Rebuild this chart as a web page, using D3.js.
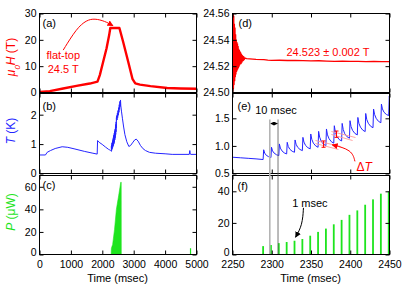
<!DOCTYPE html>
<html>
<head>
<meta charset="utf-8">
<script src="https://cdn.jsdelivr.net/npm/d3@7"></script>
<style>
  body { margin: 0; background: #fff; }
  svg text { font-family: Arial, "Liberation Sans", Helvetica, sans-serif; }
</style>
</head>
<body>
<svg id="chart" width="415" height="287"></svg>
<script>
// ---- data ----
// (a) field during the whole pulse
const aTime = [0, 328, 754, 1178, 1603, 1847, 1921, 2028, 2134, 2219, 2255, 2545, 2665, 2825, 2960, 3050, 3200, 3535, 4066, 4500, 5000];
const aField = [0.2, 0.5, 1.5, 2.5, 3.4, 4.1, 6.6, 11.7, 16.7, 21.8, 24.5, 24.5, 19.2, 11.7, 5.2, 3.5, 3.0, 2.4, 1.7, 1.5, 1.4];

// (d) field on the flat top, zoomed
const dTime = [2250, 2250.4, 2250.8, 2251.2, 2251.6, 2252, 2252.4, 2252.8, 2253.2, 2253.6, 2254, 2254.4, 2254.8, 2255.2, 2255.6, 2256,
  2256.4, 2256.8, 2257.2, 2257.6, 2258, 2258.4, 2258.8, 2259.2, 2259.6, 2260, 2260.5, 2261, 2261.5, 2262, 2262.5, 2263, 2263.5, 2264,
  2264.5, 2265, 2266, 2268, 2272, 2280, 2290, 2295, 2300, 2310, 2320, 2330, 2340, 2350, 2360, 2370, 2380, 2390, 2400, 2410, 2420, 2430, 2440, 2450];
const dField = [24.575, 24.501, 24.566, 24.503, 24.558, 24.506, 24.552, 24.509, 24.549, 24.512, 24.544, 24.514, 24.540, 24.516, 24.538, 24.517,
  24.537, 24.518, 24.535, 24.519, 24.533, 24.520, 24.532, 24.521, 24.531, 24.522, 24.530, 24.522, 24.529, 24.523, 24.528, 24.524, 24.5275, 24.5245,
  24.527, 24.525, 24.5262, 24.5258, 24.5256, 24.5252, 24.5249, 24.5246, 24.5244, 24.5245, 24.5243, 24.5244, 24.5242, 24.524, 24.5241, 24.5239,
  24.5237, 24.5238, 24.5236, 24.5237, 24.5235, 24.5236, 24.5234, 24.5234];

// (e) temperature while heating pulses are applied
const eTime = [2250, 2260, 2270, 2280, 2289,
  2289.7, 2291, 2293, 2296, 2299,
  2299.7, 2301, 2303, 2306, 2309,
  2309.7, 2311, 2313, 2316, 2319,
  2319.7, 2321, 2323, 2326, 2329,
  2329.7, 2331, 2333, 2336, 2339,
  2339.7, 2341, 2343, 2346, 2349,
  2349.7, 2351, 2353, 2356, 2359,
  2359.7, 2361, 2363, 2366, 2369,
  2369.7, 2371, 2373, 2376, 2379,
  2379.7, 2381, 2383, 2386, 2389,
  2389.7, 2391, 2393, 2396, 2399,
  2399.7, 2401, 2403, 2406, 2409,
  2409.7, 2411, 2413, 2416, 2419,
  2419.7, 2421, 2423, 2426, 2429,
  2429.7, 2431, 2433, 2436, 2439,
  2439.7, 2441, 2443, 2446, 2449,
  2449.7, 2451];
const eTemp = [0.795, 0.785, 0.775, 0.765, 0.753,
  0.93, 0.87, 0.83, 0.805, 0.79,
  0.975, 0.91, 0.87, 0.84, 0.825,
  1.036, 0.96, 0.91, 0.873, 0.855,
  1.065, 0.99, 0.94, 0.903, 0.885,
  1.108, 1.03, 0.975, 0.935, 0.915,
  1.155, 1.07, 1.01, 0.968, 0.946,
  1.216, 1.12, 1.05, 1.0, 0.975,
  1.264, 1.16, 1.085, 1.03, 1.005,
  1.307, 1.2, 1.13, 1.075, 1.05,
  1.366, 1.25, 1.17, 1.115, 1.09,
  1.408, 1.3, 1.22, 1.165, 1.14,
  1.457, 1.35, 1.28, 1.225, 1.2,
  1.516, 1.41, 1.34, 1.285, 1.26,
  1.588, 1.48, 1.41, 1.355, 1.33,
  1.668, 1.57, 1.5, 1.445, 1.42,
  1.758, 1.67, 1.61, 1.57, 1.55,
  1.9, 1.8];

// (b) temperature, whole pulse (middle part is the (e) record)
const bEarlyTime = [0, 190, 244, 350, 500, 722, 900, 1100, 1440, 1700, 1837, 1850, 1900, 1996, 2100, 2200, 2240];
const bEarlyTemp = [0.63, 0.63, 0.72, 0.78, 0.85, 0.91, 0.89, 0.84, 0.75, 0.69, 0.66, 1.12, 1.06, 0.99, 0.9, 0.82, 0.8];
const bLateTime = [2460, 2470, 2480, 2490, 2500, 2510, 2520, 2530, 2540, 2550, 2560, 2570, 2580, 2590, 2610, 2640, 2680, 2720, 2780,
  2845, 2900, 2960, 3030, 3080, 3140, 3217, 3300, 3376, 3500, 3695, 4000, 4226, 4770, 4788, 4800, 4820, 5000];
const bLateTemp = [1.97, 1.82, 2.05, 1.9, 2.14, 1.98, 2.24, 2.08, 2.34, 2.18, 2.45, 2.28, 2.5, 2.3, 2.12, 1.88, 1.58, 1.32, 1.08,
  0.92, 0.95, 1.04, 1.14, 1.17, 1.1, 0.95, 0.84, 0.78, 0.72, 0.69, 0.67, 0.65, 0.65, 0.78, 0.66, 0.65, 0.65];

// (f) heater power pulses
const fTime = [2289, 2299, 2309, 2319, 2329, 2339, 2349, 2359, 2369, 2379, 2389, 2399, 2409, 2419, 2429, 2439, 2449];
const fPower = [5.3, 6.0, 7.2, 7.9, 8.7, 9.8, 11.9, 14.3, 16.4, 19.1, 21.9, 25.1, 27.9, 31.5, 34.9, 38.5, 40];

// (c) envelope of the power pulses on the long time scale
const cTime = [2283, 2289, 2309, 2329, 2389, 2449, 2520, 2588, 2602, 2604];
const cPower = [0, 5.3, 7.2, 8.7, 22, 40, 52, 64, 64, 0];
const cSpikeTime = [4810];
const cSpikePower = [5.5];

// tick values
const leftXTicks = [0, 1000, 2000, 3000, 4000, 5000];
const rightXTicks = [2250, 2300, 2350, 2400, 2450];
const aTicks = [0, 10, 20, 30];
const bTicks = [0, 1, 2];
const cTicks = [0, 20, 40, 60];
const dTicks = [24.50, 24.52, 24.54, 24.56];
const eTicks = [0.5, 1.0, 1.5];
const fTicks = [0, 20, 40];

const RED = '#ff0000', BLUE = '#2424ff', GREEN = '#1ee41e';

const svg = d3.select('#chart');
const colX = { left: [39, 196], right: [232, 389] };
const rowY = { top: [13, 92], mid: [93, 173], bot: [175, 254] };

const defs = svg.append('defs');
function arrowMarker(id, color, size) {
  defs.append('marker')
    .attr('id', id)
    .attr('viewBox', '0 0 10 10')
    .attr('refX', 9).attr('refY', 5)
    .attr('markerUnits', 'userSpaceOnUse')
    .attr('markerWidth', size).attr('markerHeight', size)
    .attr('orient', 'auto-start-reverse')
    .append('path')
    .attr('d', 'M0,0L10,5L0,10z')
    .attr('fill', color);
}
arrowMarker('arrow-red', RED, 6);
arrowMarker('arrow-black', '#000', 6);
arrowMarker('arrow-small', '#000', 4);

function makePanel({ name, col, row, xDomain, yDomain, xTicks, yTicks, yFormat, xLabels, labelPos }) {
  const [x0, x1] = colX[col];
  const [y0, y1] = rowY[row];
  const w = x1 - x0, h = y1 - y0;
  const x = d3.scaleLinear().domain(xDomain).range([0, w]);
  const y = d3.scaleLinear().domain(yDomain).range([h, 0]);
  const g = svg.append('g').attr('transform', `translate(${x0 + 0.5},${y0 + 0.5})`);

  g.append('clipPath').attr('id', 'clip-' + name)
    .append('rect').attr('width', w).attr('height', h);
  const plot = g.append('g').attr('clip-path', `url(#clip-${name})`);

  const axes = g.append('g');
  axes.append('g').attr('transform', `translate(0,${h})`)
    .call(d3.axisBottom(x).tickValues(xTicks).tickSize(-4).tickPadding(6)
      .tickFormat(xLabels ? d3.format('d') : ''));
  axes.append('g')
    .call(d3.axisTop(x).tickValues(xTicks).tickSize(-4).tickFormat(''));
  const yAxis = axes.append('g')
    .call(d3.axisLeft(y).tickValues(yTicks).tickSize(-4).tickPadding(3).tickFormat(yFormat));
  // bottom row: lift the lowest label a little so it clears the time labels
  if (xLabels) yAxis.selectAll('.tick text').filter(d => d === yTicks[0]).attr('dy', '0.1em');
  axes.append('g').attr('transform', `translate(${w},0)`)
    .call(d3.axisRight(y).tickValues(yTicks).tickSize(-4).tickFormat(''));
  axes.selectAll('.domain').remove();
  axes.selectAll('.tick line').attr('stroke', '#000');
  axes.selectAll('text')
    .attr('font-size', 10.5)
    .attr('font-family', 'Arial, "Liberation Sans", sans-serif')
    .attr('fill', '#000');

  g.append('rect')
    .attr('width', w).attr('height', h)
    .attr('fill', 'none').attr('stroke', '#000').attr('stroke-width', 1);

  g.append('text')
    .attr('x', labelPos[0]).attr('y', labelPos[1])
    .attr('font-size', 11)
    .text('(' + name + ')');

  return { g, plot, x, y, w, h, x0, y0 };
}

const zip = (xs, ys) => xs.map((v, i) => [v, ys[i]]);

// ---- panels ----
const pa = makePanel({ name: 'a', col: 'left', row: 'top', xDomain: [0, 5000], yDomain: [0, 30],
  xTicks: leftXTicks, yTicks: aTicks, yFormat: d3.format('d'), xLabels: false, labelPos: [3, 13] });
const pb = makePanel({ name: 'b', col: 'left', row: 'mid', xDomain: [0, 5000], yDomain: [0, 2.72],
  xTicks: leftXTicks, yTicks: bTicks, yFormat: d3.format('d'), xLabels: false, labelPos: [3, 16] });
const pc = makePanel({ name: 'c', col: 'left', row: 'bot', xDomain: [0, 5000], yDomain: [0, 70],
  xTicks: leftXTicks, yTicks: cTicks, yFormat: d3.format('d'), xLabels: true, labelPos: [3, 13] });
const pd = makePanel({ name: 'd', col: 'right', row: 'top', xDomain: [2250, 2450], yDomain: [24.50, 24.56],
  xTicks: rightXTicks, yTicks: dTicks, yFormat: d3.format('.2f'), xLabels: false, labelPos: [6, 13] });
const pe = makePanel({ name: 'e', col: 'right', row: 'mid', xDomain: [2250, 2450], yDomain: [0.5, 1.95],
  xTicks: rightXTicks, yTicks: eTicks, yFormat: d3.format('.1f'), xLabels: false, labelPos: [5, 16] });
const pf = makePanel({ name: 'f', col: 'right', row: 'bot', xDomain: [2250, 2450], yDomain: [0, 50],
  xTicks: rightXTicks, yTicks: fTicks, yFormat: d3.format('d'), xLabels: true, labelPos: [5, 14] });

function drawLine(p, pts, color, width) {
  p.plot.append('path')
    .datum(pts)
    .attr('fill', 'none')
    .attr('stroke', color)
    .attr('stroke-width', width)
    .attr('stroke-linejoin', 'round')
    .attr('d', d3.line().x(d => p.x(d[0])).y(d => p.y(d[1])));
}

// (a)
drawLine(pa, zip(aTime, aField), RED, 2.4);
// (b)
const bPts = zip(bEarlyTime, bEarlyTemp).concat(zip(eTime, eTemp), zip(bLateTime, bLateTemp));
drawLine(pb, bPts, BLUE, 1);
// (c)
pc.plot.append('path')
  .datum(zip(cTime, cPower))
  .attr('fill', GREEN)
  .attr('stroke', GREEN)
  .attr('stroke-width', 0.6)
  .attr('d', d3.area().x(d => pc.x(d[0])).y0(pc.y(0)).y1(d => pc.y(d[1])));
pc.plot.selectAll('.spike')
  .data(zip(cSpikeTime, cSpikePower))
  .enter().append('line')
  .attr('x1', d => pc.x(d[0])).attr('x2', d => pc.x(d[0]))
  .attr('y1', pc.y(0)).attr('y2', d => pc.y(d[1]))
  .attr('stroke', GREEN).attr('stroke-width', 1.2);
// (d)
drawLine(pd, zip(dTime, dField), RED, 1.3);
// (e)
drawLine(pe, zip(eTime, eTemp), BLUE, 1);
// (f)
pf.plot.selectAll('.bar')
  .data(zip(fTime, fPower))
  .enter().append('rect')
  .attr('x', d => pf.x(d[0]) - 0.9)
  .attr('width', 1.8)
  .attr('y', d => pf.y(d[1]))
  .attr('height', d => pf.y(0) - pf.y(d[1]))
  .attr('fill', GREEN);

// ---- annotations ----
// (a) flat-top
pa.g.append('path')
  .datum([[755, 16.1], [1178, 24.3], [1497, 27.5], [1761, 28.1], [2080, 27.1], [2340, 25.4]])
  .attr('fill', 'none').attr('stroke', RED).attr('stroke-width', 1)
  .attr('marker-end', 'url(#arrow-red)')
  .attr('d', d3.line().curve(d3.curveBasis).x(d => pa.x(d[0])).y(d => pa.y(d[1])));
pa.g.append('text').attr('x', pa.x(755)).attr('y', pa.y(12.7))
  .attr('text-anchor', 'middle').attr('font-size', 11).attr('fill', RED).text('flat-top');
pa.g.append('text').attr('x', pa.x(755)).attr('y', pa.y(7.3))
  .attr('text-anchor', 'middle').attr('font-size', 11).attr('fill', RED).text('24.5 T');

// (d) value
pd.g.append('text').attr('x', pd.x(2318.8)).attr('y', pd.y(24.5277))
  .attr('font-size', 11).attr('fill', RED).text('24.523 \u00b1 0.002 T');

// vertical guide lines through (e) and (f)
const guideTop = pe.y0 + pe.y(1.47);
const guideBottom = pf.y0 + pf.y(0);
[[2297.5, '#b4b4b4', 1.6], [2308, '#555', 0.8]].forEach(([t, c, sw]) => {
  const xx = colX.right[0] + 0.5 + pe.x(t);
  svg.append('line')
    .attr('x1', xx).attr('x2', xx)
    .attr('y1', guideTop).attr('y2', guideBottom)
    .attr('stroke', c).attr('stroke-width', sw);
});

// (e) 10 msec
pe.g.append('line')
  .attr('x1', pe.x(2298.5)).attr('x2', pe.x(2307.2))
  .attr('y1', pe.y(1.405)).attr('y2', pe.y(1.405))
  .attr('stroke', '#000').attr('stroke-width', 0.8)
  .attr('marker-start', 'url(#arrow-small)').attr('marker-end', 'url(#arrow-small)');
pe.g.append('text').attr('x', pe.x(2278.9)).attr('y', pe.y(1.587))
  .attr('font-size', 11).text('10 msec');

// (e) delta T marks
const PINK = '#ff9a9a';
[[[2355.7, 1.098], [2387.6, 0.989]], [[2355.7, 1.043], [2385, 0.935]],
 [[2376, 1.261], [2406.7, 1.152]], [[2376, 1.207], [2403, 1.098]]].forEach(seg => {
  pe.g.append('line')
    .attr('x1', pe.x(seg[0][0])).attr('y1', pe.y(seg[0][1]))
    .attr('x2', pe.x(seg[1][0])).attr('y2', pe.y(seg[1][1]))
    .attr('stroke', PINK).attr('stroke-width', 0.9);
});
[[2366, 1.09, 0.975], [2382.5, 1.27, 1.155]].forEach(([t, hi, lo]) => {
  const bar = pe.g.append('g').attr('stroke', RED).attr('stroke-width', 1);
  bar.append('line').attr('x1', pe.x(t)).attr('x2', pe.x(t)).attr('y1', pe.y(hi)).attr('y2', pe.y(lo));
  bar.append('line').attr('x1', pe.x(t) - 2).attr('x2', pe.x(t) + 2).attr('y1', pe.y(hi)).attr('y2', pe.y(hi));
  bar.append('line').attr('x1', pe.x(t) - 2).attr('x2', pe.x(t) + 2).attr('y1', pe.y(lo)).attr('y2', pe.y(lo));
});
pe.g.append('path')
  .datum([[2406, 0.72], [2402, 0.93], [2377, 1.02]])
  .attr('fill', 'none').attr('stroke', RED).attr('stroke-width', 1)
  .attr('marker-end', 'url(#arrow-red)')
  .attr('d', d3.line().curve(d3.curveBasis).x(d => pe.x(d[0])).y(d => pe.y(d[1])));
const dT = pe.g.append('text').attr('x', pe.x(2408)).attr('y', pe.y(0.554))
  .attr('font-size', 12).attr('fill', RED);
dT.append('tspan').text('\u0394');
dT.append('tspan').attr('font-style', 'italic').text('T');

// (f) 1 msec
pf.g.append('path')
  .datum([[2340.4, 29.5], [2339, 18.6], [2330.3, 10.9]])
  .attr('fill', 'none').attr('stroke', '#000').attr('stroke-width', 1)
  .attr('marker-end', 'url(#arrow-black)')
  .attr('d', d3.line().curve(d3.curveBasis).x(d => pf.x(d[0])).y(d => pf.y(d[1])));
pf.g.append('text').attr('x', pf.x(2326)).attr('y', pf.y(30.1))
  .attr('font-size', 11).text('1 msec');

// ---- axis titles ----
[[117.5], [310.5]].forEach(([cx]) => {
  svg.append('text').attr('x', cx).attr('y', 282)
    .attr('text-anchor', 'middle').attr('font-size', 11).text('Time (msec)');
});

function yTitle(cy, color, parts) {
  const t = svg.append('text')
    .attr('transform', `translate(15,${cy}) rotate(-90)`)
    .attr('text-anchor', 'middle')
    .attr('font-size', 12)
    .attr('fill', color);
  parts.forEach(([s, style]) => {
    const sp = t.append('tspan').text(s);
    if (style === 'i') sp.attr('font-style', 'italic');
    if (style === 'sub') sp.attr('font-size', 8).attr('font-style', 'italic').attr('baseline-shift', 'sub');
  });
}
yTitle(57, RED, [['\u03bc', 'i'], ['0', 'sub'], ['H', 'i'], [' (T)']]);
yTitle(131, BLUE, [['T', 'i'], [' (K)']]);
yTitle(212, GREEN, [['P', 'i'], [' (\u03bcW)']]);
</script>
</body>
</html>
